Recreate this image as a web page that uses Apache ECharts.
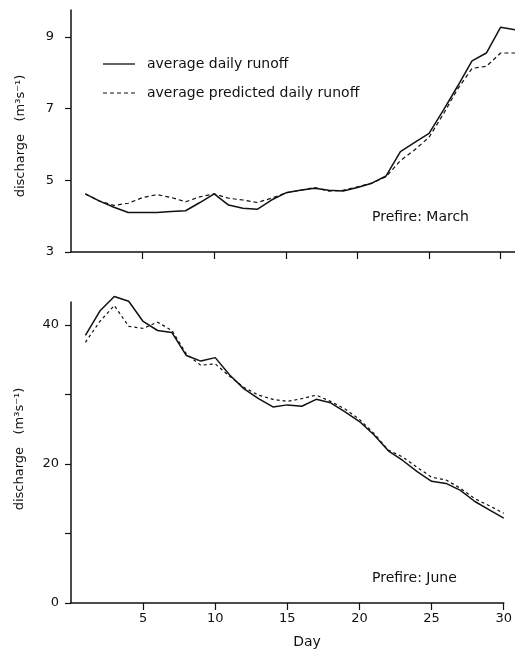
<!DOCTYPE html>
<html>
<head>
<meta charset="utf-8">
<script src="https://cdn.jsdelivr.net/npm/echarts@6/dist/echarts.min.js"></script>
<style>
html,body{margin:0;padding:0;background:#fff;}
#chart{width:515px;height:660px;}
</style>
</head>
<body>
<div id="chart"></div>
<script>
// ---- data ----
var marchDays = [1,2,3,4,5,6,7,8,9,10,11,12,13,14,15,16,17,18,19,20,21,22,23,24,25,26,27,28,29,30,31];
var marchObserved = [4.62,4.42,4.25,4.10,4.10,4.10,4.13,4.15,4.38,4.62,4.31,4.22,4.19,4.45,4.65,4.72,4.78,4.72,4.70,4.80,4.92,5.12,5.80,6.06,6.31,6.96,7.63,8.33,8.55,9.27,9.20];
var marchPredicted = [4.62,4.42,4.30,4.36,4.52,4.60,4.52,4.40,4.54,4.62,4.50,4.45,4.38,4.50,4.65,4.72,4.80,4.70,4.72,4.82,4.92,5.10,5.55,5.85,6.20,6.85,7.55,8.12,8.18,8.55,8.55];
var juneDays = [1,2,3,4,5,6,7,8,9,10,11,12,13,14,15,16,17,18,19,20,21,22,23,24,25,26,27,28,29,30];
var juneObserved = [38.5,42.0,44.1,43.4,40.5,39.2,38.9,35.6,34.8,35.3,32.8,30.8,29.4,28.2,28.5,28.3,29.3,28.8,27.5,26.1,24.2,21.9,20.5,18.9,17.5,17.2,16.2,14.6,13.4,12.2];
var junePredicted = [37.5,40.5,42.8,39.8,39.5,40.4,39.2,35.8,34.2,34.4,32.6,31.0,29.9,29.3,29.0,29.4,29.9,29.0,27.9,26.4,24.4,22.0,21.0,19.5,18.1,17.7,16.5,15.0,14.0,12.9];
var dayTicks = [5,10,15,20,25,30];
var dayLabels = ['5','10','15','20','25','30'];
var marchTicks = [3,5,7,9];
var juneTicks = [0,20,40];
var juneMinorTicks = [10,30];
var legendLabels = ['average daily runoff','average predicted daily runoff'];
var panelLabels = ['Prefire: March','Prefire: June'];
var yTitle = 'discharge   (m\u00B3s\u207B\u00B9)';
var xTitle = 'Day';

function pairs(xs, ys){ return xs.map(function(x,i){ return [x, ys[i]]; }); }

var ink = '#111';
var font = 'DejaVu Sans';
var axisLine = {lineStyle:{color:ink, width:1.5}};
var tickStyle = {color:ink, width:1.2};

var chart = echarts.init(document.getElementById('chart'), null, {renderer:'canvas'});
var option = {
  animation:false,
  backgroundColor:'#ffffff',
  grid:[
    {left:71, right:-4.6, top:10, height:242},
    {left:71, right:10, top:302, height:301}
  ],
  xAxis:[
    {gridIndex:0, type:'value', min:0, max:31,
     axisLine:axisLine,
     axisTick:{show:true, customValues:dayTicks, length:7, lineStyle:tickStyle},
     axisLabel:{show:false}, splitLine:{show:false}},
    {gridIndex:1, type:'value', min:0, max:30,
     axisLine:axisLine,
     axisTick:{show:true, customValues:dayTicks, length:7, lineStyle:tickStyle},
     axisLabel:{show:true, customValues:dayTicks, margin:9, color:ink, fontFamily:font, fontSize:13,
       formatter:function(v){ var i = dayTicks.indexOf(v); return i>=0 ? dayLabels[i] : ''; }},
     splitLine:{show:false}}
  ],
  yAxis:[
    {gridIndex:0, type:'value', min:3, max:9.75,
     axisLine:{show:true, lineStyle:{color:ink, width:1.5}},
     axisTick:{show:true, customValues:marchTicks, length:6, lineStyle:tickStyle},
     axisLabel:{show:true, customValues:marchTicks, margin:17, color:ink, fontFamily:font, fontSize:13},
     splitLine:{show:false}},
    {gridIndex:1, type:'value', min:0, max:43.3,
     axisLine:{show:true, lineStyle:{color:ink, width:1.5}},
     axisTick:{show:true, customValues:juneTicks.concat(juneMinorTicks), length:6, lineStyle:tickStyle},
     axisLabel:{show:true, customValues:juneTicks, margin:12, color:ink, fontFamily:font, fontSize:13},
     splitLine:{show:false}}
  ],
  series:[
    {name:legendLabels[0], type:'line', xAxisIndex:0, yAxisIndex:0, data:pairs(marchDays, marchObserved),
     showSymbol:false, symbol:'none', clip:false, lineStyle:{color:ink, width:1.5}},
    {name:legendLabels[1], type:'line', xAxisIndex:0, yAxisIndex:0, data:pairs(marchDays, marchPredicted),
     showSymbol:false, symbol:'none', clip:false, lineStyle:{color:ink, width:1.2, type:[4,3]}},
    {name:legendLabels[0], type:'line', xAxisIndex:1, yAxisIndex:1, data:pairs(juneDays, juneObserved),
     showSymbol:false, symbol:'none', clip:false, lineStyle:{color:ink, width:1.5}},
    {name:legendLabels[1], type:'line', xAxisIndex:1, yAxisIndex:1, data:pairs(juneDays, junePredicted),
     showSymbol:false, symbol:'none', clip:false, lineStyle:{color:ink, width:1.2, type:[3,3]}}
  ],
  graphic:[
    {type:'line', shape:{x1:103, y1:64, x2:135, y2:64}, style:{stroke:ink, lineWidth:1.3}},
    {type:'line', shape:{x1:103, y1:93, x2:136, y2:93}, style:{stroke:ink, lineWidth:1.2, lineDash:[4,3]}},
    {type:'text', x:147, y:64, style:{text:legendLabels[0], fill:ink, font:'14px "DejaVu Sans"', verticalAlign:'middle', align:'left'}},
    {type:'text', x:147, y:93, style:{text:legendLabels[1], fill:ink, font:'14px "DejaVu Sans"', verticalAlign:'middle', align:'left'}},
    {type:'text', x:372, y:217, style:{text:panelLabels[0], fill:ink, font:'14px "DejaVu Sans"', verticalAlign:'middle', align:'left'}},
    {type:'text', x:372, y:578, style:{text:panelLabels[1], fill:ink, font:'14px "DejaVu Sans"', verticalAlign:'middle', align:'left'}},
    {type:'text', x:307, y:642, style:{text:xTitle, fill:ink, font:'14px "DejaVu Sans"', verticalAlign:'middle', align:'center'}},
    {type:'text', x:21, y:136, rotation:Math.PI/2, style:{text:yTitle, fill:ink, font:'13px "DejaVu Sans"', verticalAlign:'middle', align:'center'}},
    {type:'text', x:20, y:449, rotation:Math.PI/2, style:{text:yTitle, fill:ink, font:'13px "DejaVu Sans"', verticalAlign:'middle', align:'center'}}
  ]
};
chart.setOption(option);
</script>
</body>
</html>
